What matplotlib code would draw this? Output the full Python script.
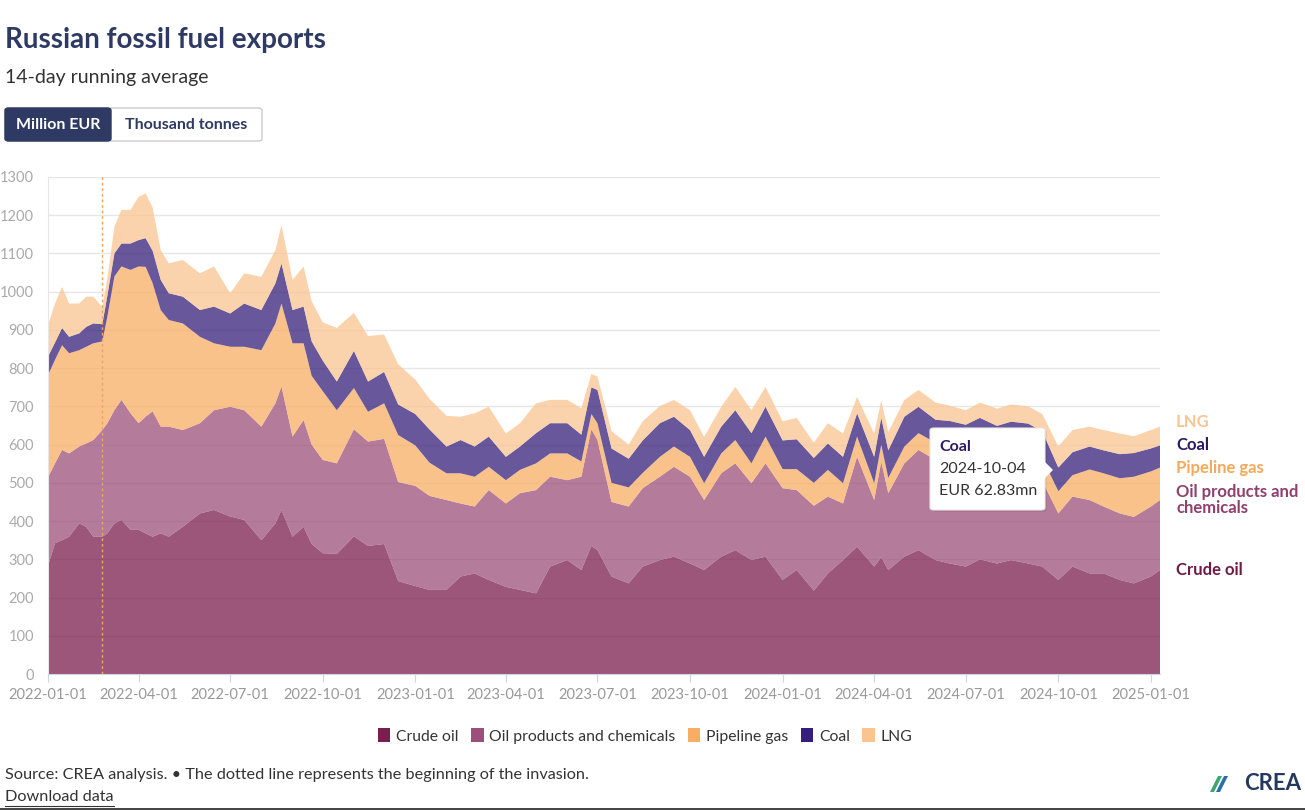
import matplotlib
matplotlib.use("Agg")
import matplotlib.pyplot as plt
from matplotlib.patches import Patch, FancyBboxPatch, Polygon
from matplotlib.lines import Line2D
from matplotlib.transforms import blended_transform_factory
import pandas as pd

# data (million EUR per day, 14-day average)
dates = [
    "2022-01-01", "2022-01-08", "2022-01-15", "2022-01-22", "2022-02-01", "2022-02-08", "2022-02-15", "2022-02-24",
    "2022-03-01", "2022-03-08", "2022-03-15", "2022-03-24", "2022-04-01", "2022-04-08", "2022-04-15", "2022-04-23",
    "2022-05-01", "2022-05-15", "2022-06-01", "2022-06-15", "2022-07-01", "2022-07-15", "2022-08-01", "2022-08-15",
    "2022-08-21", "2022-09-01", "2022-09-12", "2022-09-20", "2022-10-01", "2022-10-15", "2022-11-01", "2022-11-15",
    "2022-12-01", "2022-12-15", "2023-01-01", "2023-01-15", "2023-02-01", "2023-02-15", "2023-03-01", "2023-03-15",
    "2023-04-01", "2023-04-15", "2023-05-01", "2023-05-15", "2023-06-01", "2023-06-15", "2023-06-25", "2023-07-01",
    "2023-07-15", "2023-08-01", "2023-08-15", "2023-09-01", "2023-09-15", "2023-10-01", "2023-10-15", "2023-11-01",
    "2023-11-15", "2023-12-01", "2023-12-15", "2024-01-01", "2024-01-15", "2024-02-01", "2024-02-15", "2024-03-01",
    "2024-03-15", "2024-04-01", "2024-04-08", "2024-04-15", "2024-05-01", "2024-05-15", "2024-06-01", "2024-06-15",
    "2024-07-01", "2024-07-15", "2024-08-01", "2024-08-15", "2024-09-01", "2024-09-15", "2024-10-01", "2024-10-15",
    "2024-11-01", "2024-11-15", "2024-12-01", "2024-12-15", "2025-01-01", "2025-01-10",
]

crude = [
    283, 342, 350, 359, 394, 385, 359, 359,
    368, 394, 403, 377, 377, 368, 359, 368,
    359, 385, 420, 429, 412, 403, 350, 394,
    429, 359, 385, 340, 316, 314, 360, 335,
    340, 243, 230, 220, 220, 255, 263, 246,
    228, 220, 211, 281, 298, 272, 335, 324,
    255, 237, 281, 298, 307, 289, 272, 307,
    324, 298, 307, 246, 272, 218, 263, 298,
    333, 281, 305, 272, 307, 324, 298, 289,
    281, 300, 289, 298, 289, 281, 246, 281,
    263, 263, 246, 237, 255, 272,
]

products = [
    231, 209, 236, 218, 201, 218, 253, 279,
    288, 296, 314, 305, 279, 305, 328, 279,
    288, 253, 236, 261, 287, 287, 297, 314,
    323, 262, 279, 260, 244, 237, 280, 273,
    275, 259, 262, 246, 235, 191, 175, 235,
    218, 253, 270, 235, 209, 244, 305, 288,
    195, 201, 205, 218, 235, 227, 183, 218,
    227, 201, 244, 240, 209, 222, 201, 148,
    235, 174, 250, 201, 244, 262, 262, 256,
    259, 245, 235, 227, 231, 224, 174, 183,
    192, 175, 174, 174, 183, 183,
]

pipeline = [
    268, 271, 274, 262, 252, 253, 253, 232,
    279, 350, 349, 375, 410, 392, 335, 305,
    279, 279, 226, 175, 157, 166, 200, 209,
    217, 244, 201, 180, 180, 139, 108, 78,
    93, 123, 106, 87, 70, 79, 78, 61,
    61, 61, 70, 61, 70, 40, 40, 44,
    50, 50, 40, 52, 53, 52, 44, 52,
    61, 52, 70, 50, 55, 60, 70, 53,
    53, 44, 45, 40, 44, 44, 45, 55,
    50, 60, 60, 65, 60, 60, 58, 56,
    80, 87, 92, 105, 92, 85,
]

coal = [
    48, 45, 45, 43, 44, 52, 52, 45,
    55, 60, 60, 69, 69, 75, 85, 79,
    70, 70, 70, 96, 87, 113, 105, 105,
    105, 87, 96, 90, 80, 75, 97, 79,
    82, 80, 82, 87, 70, 87, 79, 79,
    61, 61, 79, 79, 79, 70, 70, 87,
    90, 75, 85, 88, 78, 70, 69, 70,
    78, 79, 78, 75, 78, 65, 69, 69,
    61, 69, 70, 72, 78, 69, 60, 62,
    62, 65, 65, 70, 75, 70, 62, 60,
    60, 60, 63, 62, 60, 58,
]

lng = [
    82, 102, 108, 87, 78, 79, 70, 45,
    45, 70, 88, 88, 113, 117, 113, 78,
    78, 96, 96, 105, 53, 79, 87, 87,
    100, 79, 105, 105, 100, 140, 100, 119,
    98, 105, 90, 80, 80, 61, 87, 78,
    61, 61, 78, 61, 61, 69, 35, 35,
    45, 37, 50, 45, 44, 52, 52, 52,
    61, 60, 52, 50, 56, 40, 53, 61,
    43, 61, 45, 48, 44, 44, 45, 40,
    38, 40, 45, 45, 45, 45, 55, 58,
    52, 53, 54, 44, 48, 49,
]

series_names = ["Crude oil", "Oil products and chemicals", "Pipeline gas", "Coal", "LNG"]
end_names = ["Crude oil", "Oil products and\nchemicals", "Pipeline gas", "Coal", "LNG"]
series_colors = ["#7a1e4e", "#9b4f7a", "#f7ae63", "#361f7a", "#f9c490"]
end_colors = ["#6e1b45", "#8f3f6e", "#f4a95c", "#2c1a63", "#f9c490"]
invasion_date = "2022-02-24"

plt.rcParams["font.family"] = ["Lato", "DejaVu Sans"]

W, H = 1305, 810


def fx(px):
    return px / W


def fy(py):
    return 1 - py / H


fig = plt.figure(figsize=(W / 100, H / 100), dpi=100)
ax = fig.add_axes([fx(48), fy(674), (1160 - 48) / W, (674 - 177) / H])

x = pd.to_datetime(dates)
values = [crude, products, pipeline, coal, lng]
ax.stackplot(x, *values, colors=series_colors, alpha=0.75, linewidth=0)

ax.set_xlim(x[0], x[-1])
ax.set_ylim(0, 1300)
ax.set_yticks(range(0, 1301, 100))
ax.grid(axis="y", color="#e6e6e6", lw=1)
ax.set_axisbelow(True)

ticks = pd.date_range("2022-01-01", "2025-01-01", freq="3MS")
ax.set_xticks(ticks)
ax.set_xticklabels([t.strftime("%Y-%m-%d") for t in ticks])

for side in ["top", "right"]:
    ax.spines[side].set_visible(False)
ax.spines["left"].set_color("#e6e6e6")
ax.spines["bottom"].set_color("#ccd6eb")
ax.tick_params(axis="x", length=6, color="#ccd6eb", labelcolor="#999999", labelsize=10.5, pad=4)
ax.tick_params(axis="y", length=0, labelcolor="#aaaaaa", labelsize=10.5, pad=10)

# beginning of the invasion
ax.axvline(pd.Timestamp(invasion_date), color="#f2a35e", ls=(0, (2, 2)), lw=1)

# labels at the end of each band, pushed apart so they don't collide
tops = []
total = 0
for v in values:
    total += v[-1]
    tops.append(total)
lines = [n.count("\n") + 1 for n in end_names]
label_y = [tops[0]]
for i in range(1, len(tops)):
    need = 80 if (lines[i] > 1 or lines[i - 1] > 1) else 60
    label_y.append(max(tops[i], label_y[-1] + need))
trans = blended_transform_factory(ax.transAxes, ax.transData)
for name, yv, col in zip(end_names, label_y, end_colors):
    ax.text(1.0145, yv, name, transform=trans, color=col, fontsize=12, fontweight="bold",
            va="center", ha="left", linespacing=0.95, clip_on=False)

# title, subtitle and unit switch
fig.text(fx(5), fy(40), "Russian fossil fuel exports", fontsize=20, fontweight="bold",
         color="#2e3a63", va="center")
fig.text(fx(5), fy(77), "14-day running average", fontsize=14, color="#333333", va="center")

fig.patches.append(FancyBboxPatch((fx(5), fy(141)), fx(262) - fx(5), fy(108) - fy(141),
                                  boxstyle="round,pad=0,rounding_size=0.003", transform=fig.transFigure,
                                  facecolor="white", edgecolor="#cccccc", lw=1))
fig.patches.append(FancyBboxPatch((fx(5), fy(141)), fx(111) - fx(5), fy(108) - fy(141),
                                  boxstyle="round,pad=0,rounding_size=0.003", transform=fig.transFigure,
                                  facecolor="#2e3a63", edgecolor="#2e3a63", lw=1))
fig.text(fx(58), fy(125), "Million EUR", fontsize=11.5, fontweight="bold", color="white",
         ha="center", va="center")
fig.text(fx(186), fy(125), "Thousand tonnes", fontsize=11.5, fontweight="bold", color="#2e3a63",
         ha="center", va="center")

# tooltip from the screenshot
fig.patches.append(FancyBboxPatch((fx(932), fy(512)), fx(1047) - fx(932), fy(430) - fy(512),
                                  boxstyle="round,pad=0,rounding_size=0.003", transform=fig.transFigure,
                                  facecolor="#000000", alpha=0.06, edgecolor="none"))
fig.patches.append(FancyBboxPatch((fx(930), fy(510)), fx(1045) - fx(930), fy(428) - fy(510),
                                  boxstyle="round,pad=0,rounding_size=0.003", transform=fig.transFigure,
                                  facecolor="white", edgecolor="#e8e8e8", lw=0.8))
fig.patches.append(Polygon([(fx(1044), fy(461)), (fx(1053), fy(470)), (fx(1044), fy(479))],
                           closed=True, transform=fig.transFigure, facecolor="white", edgecolor="none"))
fig.text(fx(939), fy(447), "Coal", fontsize=11.5, fontweight="bold", color="#2c1a63", va="center")
fig.text(fx(939), fy(469), "2024-10-04", fontsize=11.5, color="#333333", va="center")
fig.text(fx(939), fy(491), "EUR 62.83mn", fontsize=11.5, color="#333333", va="center")

# legend
handles = [Patch(facecolor=c, edgecolor="none") for c in series_colors]
fig.legend(handles, series_names, loc="center", bbox_to_anchor=(fx(645), fy(736)), ncol=5,
           frameon=False, fontsize=11.3, handlelength=0.8, handleheight=1.0, handletextpad=0.35,
           columnspacing=0.8, labelcolor="#333333")

# footer
fig.text(fx(5), fy(775), "Source: CREA analysis. \u2022 The dotted line represents the beginning of the invasion.",
         fontsize=11.7, color="#333333", va="center")
dl = fig.text(fx(5), fy(797), "Download data", fontsize=11.7, color="#333333", va="center")
fig.canvas.draw()
bb = dl.get_window_extent()
fig.add_artist(Line2D([fx(bb.x0), fx(bb.x1)], [fy(806), fy(806)], color="#333333", lw=0.8,
                      transform=fig.transFigure))

# CREA logo
fig.patches.append(Polygon([(fx(1210), fy(792)), (fx(1218), fy(776)), (fx(1222), fy(776)), (fx(1214), fy(792))],
                           closed=True, transform=fig.transFigure, facecolor="#3aa76d", edgecolor="none"))
fig.patches.append(Polygon([(fx(1216), fy(792)), (fx(1224), fy(776)), (fx(1228), fy(776)), (fx(1220), fy(792))],
                           closed=True, transform=fig.transFigure, facecolor="#2a6fa8", edgecolor="none"))
fig.text(fx(1301), fy(784), "CREA", fontsize=16, fontweight="bold", color="#24395c", ha="right", va="center")

fig.add_artist(Line2D([0, 1], [fy(809), fy(809)], color="#222222", lw=1.2, transform=fig.transFigure))

fig.savefig("out.png", dpi=100)
